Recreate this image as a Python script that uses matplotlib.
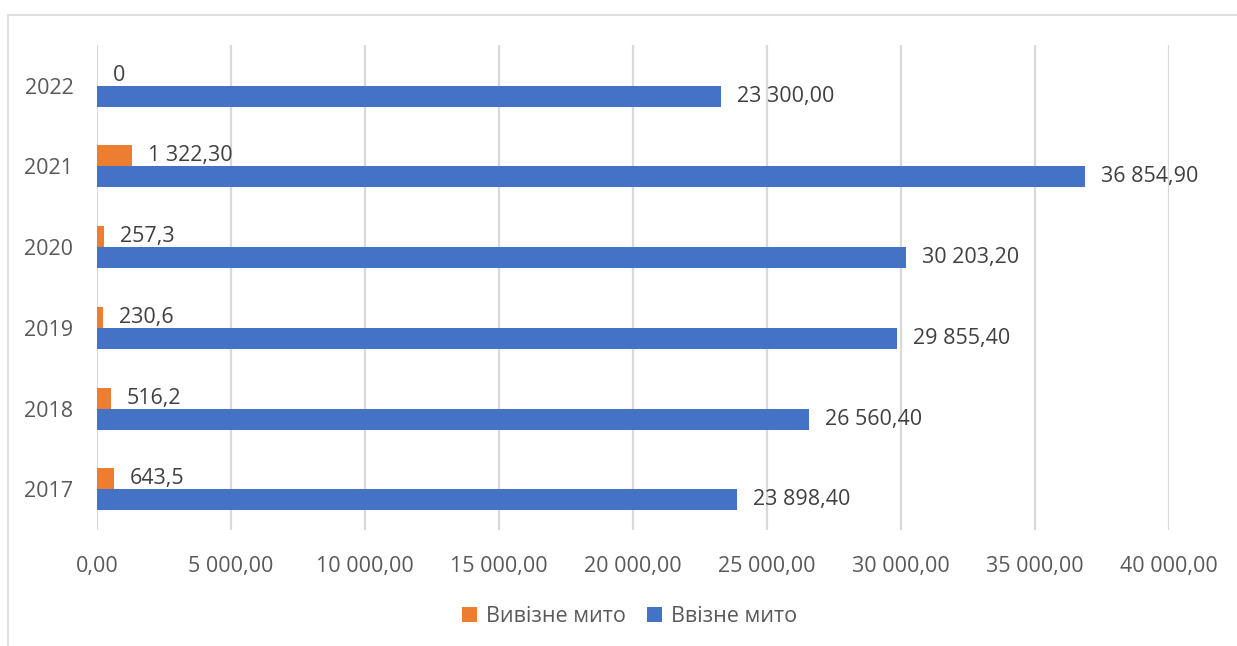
import matplotlib.pyplot as plt
from matplotlib.patches import Rectangle
import numpy as np

plt.rcParams['font.family'] = ['Open Sans', 'DejaVu Sans']

years = ['2017', '2018', '2019', '2020', '2021', '2022']
export_duty = [643.5, 516.2, 230.6, 257.3, 1322.3, 0]
import_duty = [23898.4, 26560.4, 29855.4, 30203.2, 36854.9, 23300.0]
export_labels = ['643,5', '516,2', '230,6', '257,3', '1 322,30', '0']
import_labels = ['23 898,40', '26 560,40', '29 855,40', '30 203,20', '36 854,90', '23 300,00']
xticks = [0, 5000, 10000, 15000, 20000, 25000, 30000, 35000, 40000]
xtick_labels = ['0,00', '5 000,00', '10 000,00', '15 000,00', '20 000,00',
                '25 000,00', '30 000,00', '35 000,00', '40 000,00']

orange = '#ED7D31'
blue = '#4472C4'
text_col = '#404040'
tick_col = '#595959'

fig = plt.figure(figsize=(12.37, 6.46), dpi=100)
ax = fig.add_axes([0.0784, 0.180, 0.8666, 0.750])

y = np.arange(len(years))
h = 0.26
ax.barh(y + h / 2, export_duty, height=h, color=orange, label='Вивізне мито', zorder=3)
ax.barh(y - h / 2, import_duty, height=h, color=blue, label='Ввізне мито', zorder=3)

for i in range(len(years)):
    ax.annotate(export_labels[i], (export_duty[i], y[i] + h / 2), xytext=(16, 0),
                textcoords='offset pixels', va='center', ha='left',
                fontsize=15.5, color=text_col)
    ax.annotate(import_labels[i], (import_duty[i], y[i] - h / 2), xytext=(16, 0),
                textcoords='offset pixels', va='center', ha='left',
                fontsize=15.5, color=text_col)

ax.set_xlim(0, 40000)
ax.set_ylim(-0.5, len(years) - 0.5)
ax.set_xticks(xticks)
ax.set_xticklabels(xtick_labels)
ax.set_yticks(y)
ax.set_yticklabels(years)
ax.tick_params(axis='x', length=0, pad=19, labelsize=15.5, labelcolor=tick_col)
ax.tick_params(axis='y', length=0, pad=17, labelsize=15.5, labelcolor=tick_col)
ax.grid(axis='x', color='#D9D9D9', linewidth=1.6, zorder=0)
for s in ax.spines.values():
    s.set_visible(False)

handles, labels = ax.get_legend_handles_labels()
fig.legend(handles, labels, loc='center', bbox_to_anchor=(0.509, 0.045), ncol=2,
           frameon=False, fontsize=15.5, labelcolor=tick_col, handlelength=0.7,
           handleheight=0.7, handletextpad=0.4, columnspacing=1.0)

fig.patches.append(Rectangle((8 / 1237, -0.01), 1.0, 1 - 15 / 646 + 0.01,
                             transform=fig.transFigure, fill=False,
                             edgecolor='#D9D9D9', linewidth=1.2))

fig.savefig('out.png', dpi=100)
